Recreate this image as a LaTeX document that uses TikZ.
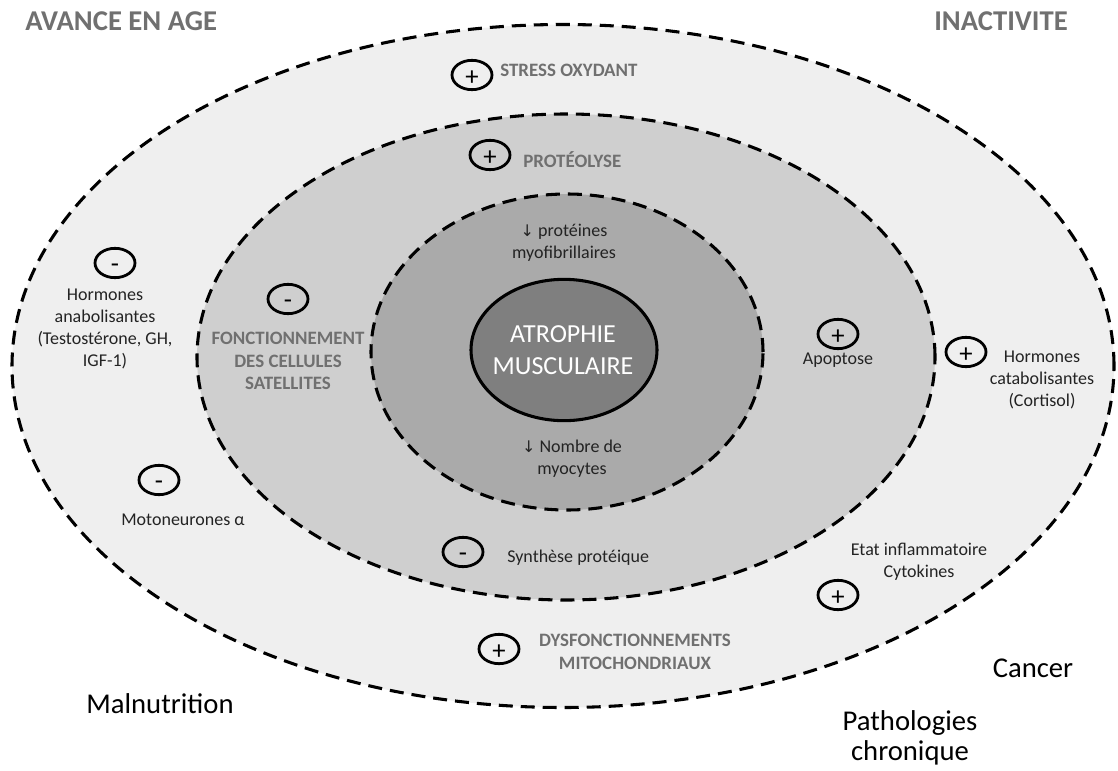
\documentclass[tikz,border=0pt]{standalone}
\usepackage{fontspec}
\setmainfont{Carlito}
\newfontfamily\symfont{DejaVu Sans}
\usetikzlibrary{shapes.geometric}
\definecolor{outerfill}{RGB}{239,239,239}
\definecolor{midfill}{RGB}{207,207,207}
\definecolor{innerfill}{RGB}{170,170,170}
\definecolor{corefill}{RGB}{127,127,127}
\definecolor{labelgray}{RGB}{112,112,112}
\definecolor{textdark}{RGB}{35,35,35}
\begin{document}
\begin{tikzpicture}[x=0.75pt,y=-0.75pt,
  ring/.style={ellipse, draw=black, line width=2.3pt, dash pattern=on 10.5pt off 6pt, inner sep=0pt},
  sign/.style={ellipse, draw=black, line width=2.1pt, minimum width=30pt, minimum height=22pt, inner sep=0pt, font=\fontsize{20}{20}\selectfont, text depth=0pt},
  plus/.style={sign, text height=15.5pt},
  minus/.style={sign, text height=14pt},
  small/.style={font=\fontsize{13.5}{16.5}\selectfont, text=textdark, align=center, inner sep=0pt},
  caps/.style={font=\fontsize{14.2}{16.9}\selectfont\bfseries, text=labelgray, align=center, inner sep=0pt},
  title/.style={font=\fontsize{21.5}{24}\selectfont\bfseries, text=labelgray, inner sep=0pt},
  big/.style={font=\fontsize{21.5}{22}\selectfont, text=black, align=center, inner sep=0pt},
  ]
\useasboundingbox (0,0) rectangle (1118,771);
\fill[white] (0,0) rectangle (1118,771);
% rings
\node[ring, fill=outerfill, minimum width=826.5pt, minimum height=512.25pt] (outer) at (563,366) {};
\node[ring, fill=midfill, minimum width=553.5pt, minimum height=364.5pt] (middle) at (566,357) {};
\node[ring, fill=innerfill, minimum width=294pt, minimum height=237pt] (inner) at (567,352) {};
\node[ellipse, draw=black, line width=2.3pt, fill=corefill, minimum width=139.5pt, minimum height=106pt, inner sep=0pt] (core) at (564,350) {};
\node[font=\fontsize{19.5}{24}\selectfont, text=white, align=center, inner sep=0pt] (atro) at (563,350) {ATROPHIE\\MUSCULAIRE};
% signs
\node[plus] (sA) at (472,75) {+};
\node[plus] (sB) at (490,155) {+};
\node[minus] (sC) at (115,263) {-};
\node[minus] (sD) at (288,299) {-};
\node[plus] (sE) at (838,334) {+};
\node[plus] (sF) at (966,352) {+};
\node[minus] (sG) at (159,480) {-};
\node[minus] (sH) at (463,552) {-};
\node[plus] (sI) at (838,595) {+};
\node[plus] (sJ) at (499,649) {+};
% titles
\node[title, anchor=west] (tAge) at (25,21) {AVANCE EN AGE};
\node[title, anchor=east] (tInact) at (1068,21) {INACTIVITE};
% caps labels
\node[caps, anchor=base west] (tStress) at (500,76) {STRESS OXYDANT};
\node[caps, anchor=base west] (tProt) at (523,167) {PROTÉOLYSE};
\node[caps] (tFonc) at (288,361) {FONCTIONNEMENT\\DES CELLULES\\SATELLITES};
\node[caps] (tDysf) at (635,652) {DYSFONCTIONNEMENTS\\MITOCHONDRIAUX};
% small labels
\node[small] (tMyo) at (564,243) {{\symfont\fontsize{12}{12}\selectfont ↓} protéines\\myofibrillaires};
\node[small] (tNomb) at (572,459) {{\symfont\fontsize{12}{12}\selectfont ↓} Nombre de\\myocytes};
\node[small] (tHormA) at (105,329) {Hormones\\anabolisantes\\(Testostérone, GH,\\IGF-1)};
\node[small] (tApop) at (838,360) {Apoptose};
\node[small] (tHormC) at (1042,380) {Hormones\\catabolisantes\\(Cortisol)};
\node[small] (tMoto) at (183,520) {Motoneurones α};
\node[small, anchor=base west] (tSynth) at (507,562) {Synthèse protéique};
\node[small] (tEtat) at (919,562) {Etat inflammatoire\\Cytokines};
% big labels
\node[big] (tCancer) at (1033,668) {Cancer};
\node[big] (tMal) at (160,704) {Malnutrition};
\node[big] (tPath) at (910,738) {Pathologies\\chronique};
\end{tikzpicture}
\end{document}
